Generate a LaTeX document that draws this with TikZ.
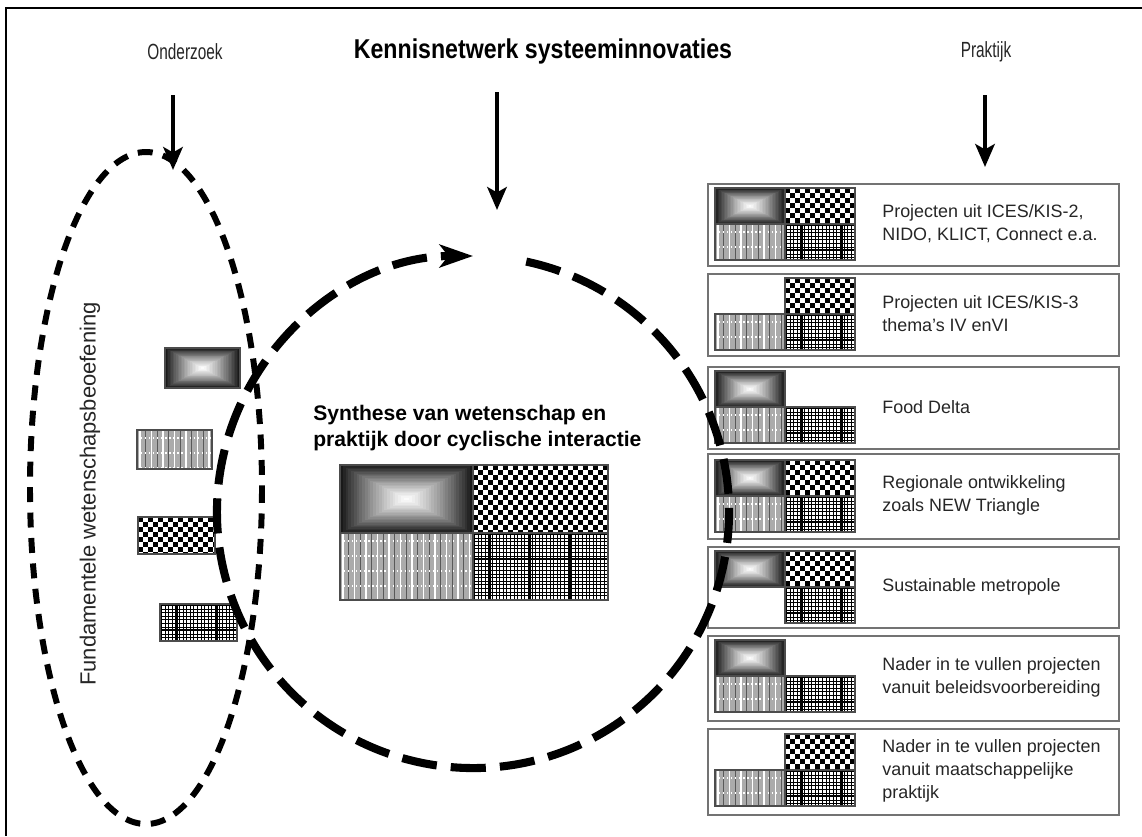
\documentclass[tikz,border=0pt]{standalone}
\usepackage{fontspec}
\setmainfont{Liberation Sans}
\newfontfamily\narrowfont{Liberation Sans}[FakeStretch=0.7]
\newfontfamily\titlefont{Liberation Sans}[FakeStretch=0.85]
\usetikzlibrary{arrows.meta}

\tikzset{
  cellborder/.style={draw=black!70, line width=0.6pt},
  rbox/.style={draw=black!55, line width=1.1pt, minimum width=8.22cm, inner sep=0pt, rectangle},
  rtext/.style={font=\fontsize{10.2}{13}\selectfont, text=black!85, align=left, inner sep=0pt},
  toparrow/.style={line width=2.5pt, -{Stealth[length=13pt, width=11pt, inset=3pt]}},
  elldash/.style={line width=3.4pt, dash pattern=on 8.5pt off 6pt},
  circdash/.style={line width=4.6pt, dash pattern=on 20pt off 8pt,
     -{Stealth[length=19pt, width=13pt, inset=5pt]}},
}

% rectangular "from centre" gradient cell
\newcommand{\GradCell}[4]{%
  \foreach \k in {0,...,23}{%
    \pgfmathsetmacro\gT{\k/24}%
    \pgfmathsetmacro\gP{90*(1-\gT)^1.25}%
    \fill[black!\gP] ({#1+\gT*(#3-#1)/2},{#2+\gT*(#4-#2)/2}) rectangle ({#3-\gT*(#3-#1)/2},{#4-\gT*(#4-#2)/2});
  }%
  \draw[cellborder] (#1,#2) rectangle (#3,#4);
}
% checkerboard cell
\newcommand{\CheckCell}[4]{%
  \begin{scope}
    \clip (#1,#2) rectangle (#3,#4);
    \fill[white] (#1,#2) rectangle (#3,#4);
    \pgfmathtruncatemacro\cN{(#4-#2)/5}%
    \foreach \j in {0,...,\cN}{%
      \pgfmathsetmacro\cPh{mod(\j,2)*0.1}%
      \draw[black, line width=0.1cm, dash pattern=on 0.1cm off 0.1cm, dash phase=\cPh cm]
        (#1,{#2+\j*5+2.5}) -- (#3,{#2+\j*5+2.5});
    }%
  \end{scope}
  \draw[cellborder] (#1,#2) rectangle (#3,#4);
}
% vertical stripes cell
\newcommand{\StripeCell}[4]{%
  \begin{scope}
    \clip (#1,#2) rectangle (#3,#4);
    \fill[black!33] (#1,#2) rectangle (#3,#4);
    \foreach \i in {0,...,12}{%
      \draw[white, line width=1.1pt] ({#1+3+\i*11.5},#2) -- ++(0,{#4-#2});
      \draw[black!65, line width=0.6pt] ({#1+8.8+\i*11.5},#2) -- ++(0,{#4-#2});
    }%
    \foreach \j in {0,...,5}{%
      \draw[white, line width=0.9pt, dash pattern=on 0.7pt off 1.6pt] (#1,{#2+8+\j*15}) -- (#3,{#2+8+\j*15});
    }%
  \end{scope}
  \draw[cellborder] (#1,#2) rectangle (#3,#4);
}
% fine grid cell
\newcommand{\GridCell}[4]{%
  \begin{scope}
    \clip (#1,#2) rectangle (#3,#4);
    \fill[white] (#1,#2) rectangle (#3,#4);
    \foreach \i in {0,...,40}{%
      \draw[black, line width=0.5pt] ({#1+1.5+\i*3.6},#2) -- ++(0,{#4-#2});
    }%
    \foreach \j in {0,...,20}{%
      \draw[black, line width=0.5pt] (#1,{#2+1.5+\j*3.6}) -- ++({#3-#1},0);
    }%
    \foreach \i in {0,...,3}{%
      \draw[black, line width=1.1pt] ({#1+17+\i*40},#2) -- ++(0,{#4-#2});
    }%
    \draw[black, line width=1.1pt] (#1,{#2+26}) -- (#3,{#2+26});
  \end{scope}
  \draw[cellborder] (#1,#2) rectangle (#3,#4);
}
% right project box with its text
\newcommand{\RBox}[4]{%
  \node[rbox, minimum height={#3*0.02cm}, anchor=north west] (#1) at (707,#2) {};
  \node[rtext, anchor=west] (#1t) at (882,{#2+#3/2}) {#4};
}

\begin{document}
\begin{tikzpicture}[x=0.02cm, y=-0.02cm]
\useasboundingbox (0,0) rectangle (1142,836);
\fill[white] (0,0) rectangle (1142,836);

% outer frame (left and top edges visible)
\draw[line width=1.2pt] (1142,8) -- (6,8) -- (6,836);

% headings
\node[font=\fontsize{12.5}{14}\narrowfont, text=black!85] (onderzoek) at (185,52) {Onderzoek};
\node[font=\fontsize{15.5}{18}\titlefont\bfseries] (title) at (543,51) {Kennisnetwerk systeeminnovaties};
\node[font=\fontsize{12.5}{14}\narrowfont, text=black!85] (praktijk) at (986,52) {Praktijk};

\coordinate (oA) at (173,95);  \coordinate (oB) at (173,170);
\coordinate (kA) at (497,92);  \coordinate (kB) at (497,210);
\coordinate (pA) at (985,95);  \coordinate (pB) at (985,167);
\draw[toparrow] (oA) -- (oB);
\draw[toparrow] (kA) -- (kB);
\draw[toparrow] (pA) -- (pB);

% right-hand project boxes
\RBox{b1}{183}{82}{Projecten uit ICES/KIS-2,\\NIDO, KLICT, Connect  e.a.}
\RBox{b2}{273}{82}{Projecten uit ICES/KIS-3\\thema's IV enVI}
\RBox{b3}{366}{82}{Food Delta}
\RBox{b4}{453}{85}{Regionale ontwikkeling\\zoals NEW Triangle}
\RBox{b5}{546}{81}{Sustainable metropole}
\RBox{b6}{635}{85}{Nader in te vullen projecten\\vanuit beleidsvoorbereiding}
\RBox{b7}{728}{86}{Nader in te vullen projecten\\vanuit maatschappelijke\\praktijk}

% box 1
\GradCell{715}{188}{785}{224}\CheckCell{785}{188}{855}{224}
\StripeCell{715}{224}{785}{260}\GridCell{785}{224}{855}{260}
% box 2
\CheckCell{785}{278}{855}{314}
\StripeCell{715}{314}{785}{350}\GridCell{785}{314}{855}{350}
% box 3
\GradCell{715}{371}{785}{407}
\StripeCell{715}{407}{785}{443}\GridCell{785}{407}{855}{443}
% box 4
\GradCell{715}{460}{785}{496}\CheckCell{785}{460}{855}{496}
\StripeCell{715}{496}{785}{532}\GridCell{785}{496}{855}{532}
% box 5
\GradCell{715}{551}{785}{587}\CheckCell{785}{551}{855}{587}
\GridCell{785}{587}{855}{623}
% box 6
\GradCell{715}{640}{785}{676}
\StripeCell{715}{676}{785}{712}\GridCell{785}{676}{855}{712}
% box 7
\CheckCell{785}{734}{855}{770}
\StripeCell{715}{770}{785}{806}\GridCell{785}{770}{855}{806}

% left small blocks
\GradCell{165}{348}{240}{388}
\StripeCell{137}{430}{212}{469}
\CheckCell{138}{517}{215}{554}
\GridCell{160}{604}{237}{641}

% central block
\GradCell{340}{465}{473}{533}
\CheckCell{473}{465}{608}{533}
\StripeCell{340}{533}{473}{600}
\GridCell{473}{533}{608}{600}
\draw[draw=black!70, line width=1pt] (340,465) rectangle (608,600);

% central label
\node[font=\fontsize{12}{14.7}\selectfont\bfseries, align=left, anchor=west, inner sep=0pt] (synth) at (313,428)
  {Synthese van wetenschap en\\praktijk door cyclische interactie};

% vertical label
\node[font=\fontsize{12.5}{15}\selectfont, text=black!85, rotate=90] (fund) at (90,494) {Fundamentele wetenschapsbeoefening};

% dotted ellipse (research) and dashed cycle
\draw[elldash] (146,488) ellipse [x radius=116, y radius=336];
\draw[circdash] (473,512) ++(-78:256) arc[start angle=-78, end angle=270, radius=256];
\end{tikzpicture}
\end{document}
